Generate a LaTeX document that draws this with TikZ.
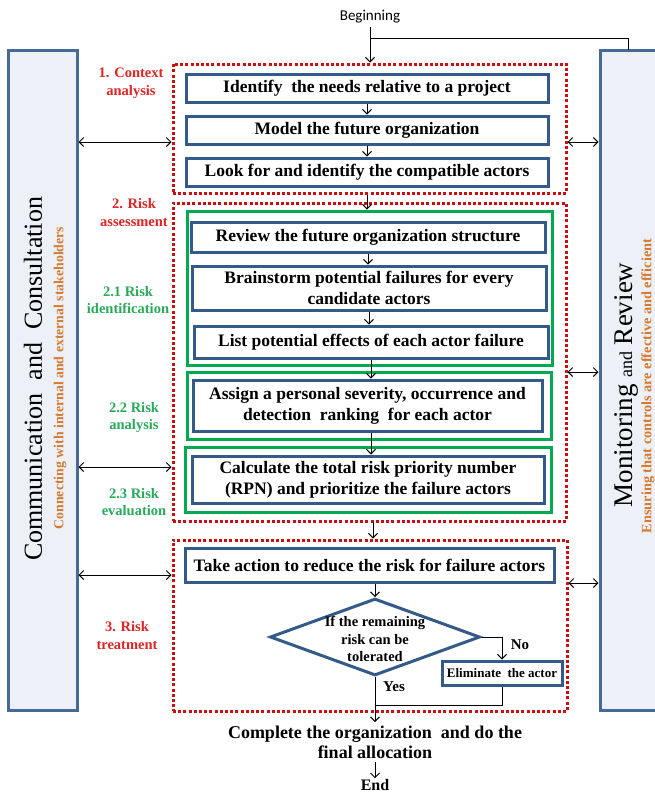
\documentclass[tikz,border=0pt]{standalone}
\usepackage{fontspec}
\setmainfont{Liberation Serif}
\newfontfamily\carlito{Carlito}
\usetikzlibrary{arrows.meta,shapes.geometric}
\definecolor{boxblue}{RGB}{52,90,138}
\definecolor{barblue}{RGB}{70,106,150}
\definecolor{barfill}{RGB}{237,241,247}
\definecolor{dred}{RGB}{200,16,16}
\definecolor{lred}{RGB}{222,36,36}
\definecolor{gbox}{RGB}{0,170,80}
\definecolor{glabc}{RGB}{40,170,90}
\definecolor{orng}{RGB}{214,122,46}
\begin{document}
\begin{tikzpicture}[x=1pt,y=-1pt,
  bluebox/.style={draw=boxblue,line width=3pt,fill=white,inner sep=1pt,align=center,
    font=\fontsize{17.5}{21}\selectfont\bfseries},
  greenbox/.style={draw=gbox,line width=3pt},
  redbox/.style={draw=dred,line width=3pt,dash pattern=on 3pt off 2.2pt},
  bar/.style={draw=barblue,fill=barfill,line width=3pt},
  arr/.style={-{Straight Barb[length=4.5pt,width=9pt]},line width=1pt},
  darr/.style={{Straight Barb[length=4.5pt,width=9pt]}-{Straight Barb[length=4.5pt,width=9pt]},line width=1pt},
  redlab/.style={text=lred,font=\fontsize{14.5}{18}\selectfont\bfseries,align=center},
  greenlab/.style={text=glabc,font=\fontsize{14.5}{17}\selectfont\bfseries,align=center},
  plain/.style={font=\fontsize{15}{17}\selectfont\bfseries}
]
\useasboundingbox (0,0) rectangle (654,793);

% side bars
\node[bar,minimum width=69pt,minimum height=660pt] (lbar) at (42.5,380) {};
\node[bar,minimum width=62pt,minimum height=660pt] (rbar) at (631,380) {};
\node[rotate=90,font=\fontsize{26}{30}\selectfont] (ltitle) at (33,379) {Communication\ \ and\ \ Consultation};
\node[rotate=90,text=orng,font=\fontsize{13.8}{15}\selectfont\bfseries] (lsub) at (60,378) {Connecting with internal and external stakeholders};
\node[rotate=90,font=\fontsize{27}{30}\selectfont] (rtitle) at (626,385) {Monitoring {\fontsize{18}{20}\selectfont and} Review};
\node[rotate=90,text=orng,font=\fontsize{14.3}{15}\selectfont\bfseries] (rsub) at (648,386) {Ensuring that controls are effective and efficient};

% red dotted groups
\node[redbox,minimum width=393pt,minimum height=129pt] (red1) at (369.5,128.5) {};
\node[redbox,minimum width=393pt,minimum height=318pt] (red2) at (369.5,362) {};
\node[redbox,minimum width=394pt,minimum height=171pt] (red3) at (370,625.5) {};

% green groups
\node[greenbox,minimum width=365pt,minimum height=154pt] (green1) at (369.5,288) {};
\node[greenbox,minimum width=364pt,minimum height=67pt] (green2) at (369,405.5) {};
\node[greenbox,minimum width=366pt,minimum height=65pt] (green3) at (368,479.5) {};

% process boxes
\node[bluebox,minimum width=362pt,minimum height=28pt] (a1) at (367,88) {Identify\ \ the needs relative to a project};
\node[bluebox,minimum width=362pt,minimum height=28pt] (a2) at (367,130) {Model the future organization};
\node[bluebox,minimum width=362pt,minimum height=28pt] (a3) at (367,172) {Look for and identify the compatible actors};
\node[bluebox,minimum width=354pt,minimum height=30pt] (b1) at (368,237) {Review the future organization structure};
\node[bluebox,minimum width=354pt,minimum height=44pt] (b2) at (369,288) {Brainstorm potential failures for every\\candidate actors};
\node[bluebox,minimum width=354pt,minimum height=32pt] (b3) at (371,342) {List potential effects of each actor failure};
\node[bluebox,minimum width=349pt,minimum height=51pt] (b4) at (367.5,405.5) {Assign a personal severity, occurrence and\\detection\ \ ranking\ \ for each actor};
\node[bluebox,minimum width=352pt,minimum height=47pt] (b5) at (368,479.5) {Calculate the total risk priority number\\(RPN) and prioritize the failure actors};
\node[bluebox,minimum width=369pt,minimum height=34pt] (c1) at (369.5,565) {Take action to reduce the risk for failure actors};

% decision
\node[diamond,draw=boxblue,line width=3pt,fill=white,minimum width=210pt,minimum height=77pt,inner sep=0pt] (dia) at (375,637) {};
\node[align=center,font=\fontsize{14.5}{17.5}\selectfont\bfseries] (diat) at (375,639) {If the remaining\\risk can be\\tolerated};
\node[bluebox,minimum width=120pt,minimum height=24pt,font=\fontsize{13}{15}\selectfont\bfseries] (elim) at (502,673) {Eliminate\ \ the actor};
\node[plain] (no) at (520,645) {No};
\node[plain] (yes) at (394,687) {Yes};
\coordinate (merge) at (375,705);

% labels
\node[redlab] (l1) at (131,83) {1. Context\\analysis};
\node[redlab] (l2) at (134,213) {2. Risk\\assessment};
\node[greenlab] (l21) at (128,300) {2.1 Risk\\identification};
\node[greenlab] (l22) at (134,418) {2.2 Risk\\analysis};
\node[greenlab] (l23) at (134,502) {2.3 Risk\\evaluation};
\node[redlab] (l3) at (127,636) {3. Risk\\treatment};

% begin / end
\node[font=\carlito\fontsize{15}{17}\selectfont] (begin) at (370,17) {Beginning};
\node[align=center,font=\fontsize{18}{20}\selectfont\bfseries] (final) at (375,742) {Complete the organization\ \ and do the\\final allocation};
\node[font=\fontsize{16}{18}\selectfont\bfseries,inner sep=1pt] (endn) at (375,785) {End};

% main flow
\coordinate (join) at (370,38);
\coordinate (fb) at (628,50);
\draw[arr] (begin.south) -- (begin.south |- red1.north);
\draw[line width=1pt] (fb) |- (join);
\draw[arr] (a1.south) -- (a2.north);
\draw[arr] (a2.south) -- (a3.north);
\draw[arr] (a3.south |- red1.south) -- (a3.south |- green1.north);
\draw[arr] (b1.south) -- (b1.south |- b2.north);
\draw[arr] (b2.south) -- (b2.south |- b3.north);
\draw[arr] (b3.south -| 371,0) -- (371,0 |- b4.north);
\draw[arr] (b4.south -| 371,0) -- (371,0 |- b5.north);
\draw[arr] (373,0 |- red2.south) -- (373,0 |- red3.north);
\draw[arr] (dia.north |- c1.south) -- (dia.north);
\draw[arr] (dia.east) -| (elim.north);
\draw[line width=1pt] (dia.south) -- (merge);
\draw[line width=1pt] (elim.south) |- (merge);
\draw[arr] (merge) -- (merge |- final.north);
\draw[arr] (final.south) -- (endn.north);

% exchanges with side bars
\path (0,142) coordinate (y1) (0,467) coordinate (y2) (0,575) coordinate (y3)
      (0,372) coordinate (y4) (0,583) coordinate (y5);
\draw[darr] (lbar.east |- y1) -- (red1.west |- y1);
\draw[darr] (lbar.east |- y2) -- (red2.west |- y2);
\draw[darr] (lbar.east |- y3) -- (red3.west |- y3);
\draw[darr] (red1.east |- y1) -- (rbar.west |- y1);
\draw[darr] (red2.east |- y4) -- (rbar.west |- y4);
\draw[darr] (red3.east |- y5) -- (rbar.west |- y5);
\end{tikzpicture}
\end{document}
